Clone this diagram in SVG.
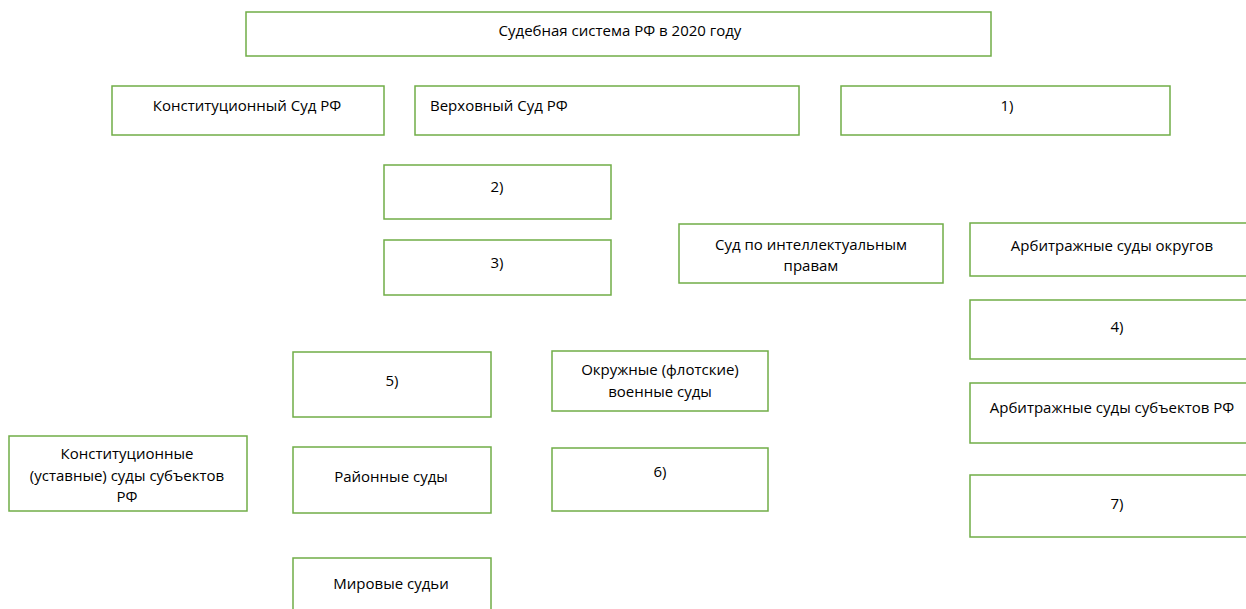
<svg xmlns="http://www.w3.org/2000/svg" width="1246" height="609" viewBox="0 0 1246 609">
<style>
rect{fill:#fff;stroke:#70AD47;stroke-width:1.5}
text{font-family:"Open Sans","Liberation Sans",sans-serif;font-size:15px;fill:#000;text-anchor:middle;dominant-baseline:central}
</style>
<rect x="0" y="0" width="1246" height="609" style="stroke:none"/>
<g id="root"><rect x="246" y="12" width="745" height="44"/><text x="620" y="30">Судебная система РФ в 2020 году</text></g>
<g id="ks"><rect x="112" y="86" width="272" height="49"/><text x="247" y="105">Конституционный Суд РФ</text></g>
<g id="vs"><rect x="415" y="86" width="384" height="49"/><text x="430" y="105" style="text-anchor:start">Верховный Суд РФ</text></g>
<g id="n1"><rect x="841" y="86" width="329" height="49"/><text x="1007" y="105">1)</text></g>
<g id="n2"><rect x="384" y="165" width="227" height="54"/><text x="497" y="186">2)</text></g>
<g id="n3"><rect x="384" y="240" width="227" height="55"/><text x="497" y="262">3)</text></g>
<g id="sip"><rect x="679" y="224" width="264" height="59"/><text x="811" y="244">Суд по интеллектуальным</text><text x="811" y="265">правам</text></g>
<g id="aso"><rect x="970" y="223" width="286" height="53"/><text x="1112" y="245">Арбитражные суды округов</text></g>
<g id="n4"><rect x="970" y="300" width="286" height="59"/><text x="1117" y="326">4)</text></g>
<g id="n5"><rect x="293" y="352" width="198" height="65"/><text x="392" y="380">5)</text></g>
<g id="ovs"><rect x="552" y="351" width="216" height="60"/><text x="660" y="369">Окружные (флотские)</text><text x="660" y="391">военные суды</text></g>
<g id="ass"><rect x="970" y="383" width="286" height="60"/><text x="1112" y="407">Арбитражные суды субъектов РФ</text></g>
<g id="kss"><rect x="9" y="436" width="238" height="75"/><text x="127" y="453">Конституционные</text><text x="127" y="475">(уставные) суды субъектов</text><text x="127" y="496">РФ</text></g>
<g id="rs"><rect x="293" y="447" width="198" height="66"/><text x="391" y="476">Районные суды</text></g>
<g id="n6"><rect x="552" y="448" width="216" height="63"/><text x="660" y="471">6)</text></g>
<g id="n7"><rect x="970" y="475" width="286" height="62"/><text x="1117" y="503">7)</text></g>
<g id="ms"><rect x="293" y="558" width="198" height="60"/><text x="391" y="583">Мировые судьи</text></g>
<g id="connectors"></g>
</svg>
